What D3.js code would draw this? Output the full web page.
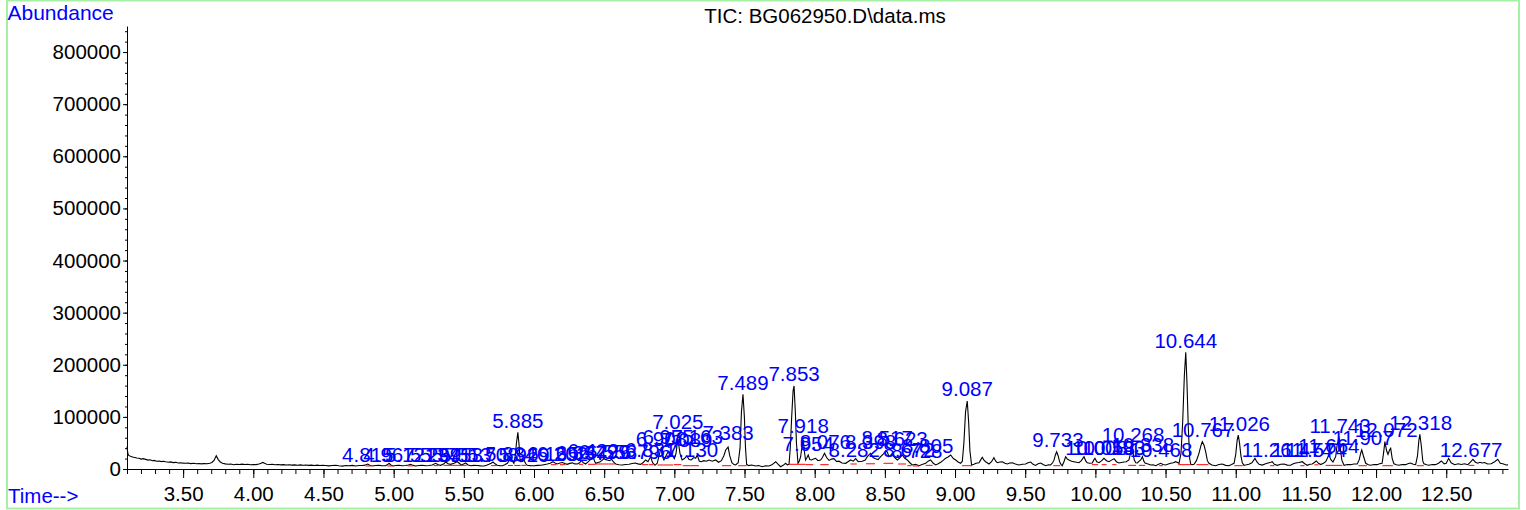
<!DOCTYPE html>
<html>
<head>
<meta charset="utf-8">
<script src="https://d3js.org/d3.v7.min.js"></script>
<style>
    body { margin: 0; background: #fff; }
    text { font-family: "Liberation Sans", Arial, sans-serif; }
</style>
</head>
<body>
<div id="chart"></div>
<script>
// TIC trace: [retention time (min), abundance]
var trace = [
    [3.100, 43000], [3.106, 30000], [3.112, 26000], [3.125, 24500], [3.140, 23000], [3.155, 22000],
    [3.170, 21000], [3.185, 20500], [3.200, 19000], [3.215, 19800], [3.233, 18500], [3.250, 17000],
    [3.265, 17800], [3.280, 15900], [3.295, 16500], [3.310, 15000], [3.328, 15400], [3.345, 14200],
    [3.360, 14800], [3.376, 13800], [3.395, 13000], [3.410, 13600], [3.430, 12300], [3.447, 12800],
    [3.465, 11600], [3.485, 12100], [3.500, 11200], [3.518, 10900], [3.535, 11500], [3.555, 10400],
    [3.575, 11000], [3.595, 10100], [3.613, 10500], [3.630, 9800], [3.650, 10600], [3.670, 10000],
    [3.690, 11200], [3.705, 12500], [3.720, 16500], [3.736, 25500], [3.750, 18000], [3.765, 13500],
    [3.780, 11000], [3.800, 9800], [3.820, 9000], [3.840, 9500], [3.860, 8300], [3.880, 9000],
    [3.900, 8600], [3.920, 9300], [3.940, 8500], [3.960, 9000], [3.980, 8200], [4.000, 8700],
    [4.020, 8400], [4.040, 9600], [4.055, 11000], [4.068, 12600], [4.080, 11000], [4.095, 9200],
    [4.115, 8600], [4.135, 9000], [4.155, 8100], [4.175, 8500], [4.195, 7900], [4.215, 8400],
    [4.235, 7700], [4.255, 8200], [4.275, 7500], [4.295, 8000], [4.315, 7300], [4.335, 7900],
    [4.355, 7200], [4.375, 7600], [4.395, 6900], [4.415, 7500], [4.435, 6800], [4.455, 7400],
    [4.475, 6700], [4.495, 7200], [4.515, 6600], [4.539, 6000], [4.560, 6800], [4.587, 7100],
    [4.610, 6200], [4.634, 5500], [4.660, 6800], [4.682, 6300], [4.705, 6900], [4.729, 5800],
    [4.755, 6600], [4.777, 6800], [4.795, 7400], [4.815, 9600], [4.832, 6600], [4.848, 5800],
    [4.870, 6600], [4.896, 6900], [4.920, 6100], [4.943, 6500], [4.955, 8000], [4.967, 10900],
    [4.980, 7800], [4.995, 5800], [5.015, 6600], [5.038, 7200], [5.060, 6200], [5.086, 6600],
    [5.105, 7800], [5.121, 9000], [5.138, 6900], [5.157, 5800], [5.180, 6800], [5.204, 7100],
    [5.228, 6300], [5.252, 6600], [5.275, 7800], [5.299, 10900], [5.318, 8200], [5.335, 7100],
    [5.355, 9500], [5.371, 13400], [5.388, 10000], [5.406, 9000], [5.430, 11000], [5.453, 14000],
    [5.470, 10500], [5.482, 7500], [5.498, 9500], [5.513, 11500], [5.530, 7800], [5.549, 6200],
    [5.572, 7000], [5.596, 6800], [5.620, 6000], [5.644, 5800], [5.662, 7200], [5.679, 9000],
    [5.695, 11000], [5.708, 13400], [5.722, 10000], [5.738, 7100], [5.756, 6500], [5.774, 6300],
    [5.792, 8000], [5.810, 10900], [5.822, 16000], [5.834, 22400], [5.846, 15000], [5.857, 10900],
    [5.866, 25000], [5.875, 50000], [5.885, 70400], [5.894, 45000], [5.900, 20000], [5.907, 14000],
    [5.918, 15500], [5.929, 17300], [5.940, 10500], [5.952, 7100], [5.975, 6500], [6.000, 6200],
    [6.025, 7000], [6.048, 7100], [6.070, 8200], [6.095, 9600], [6.115, 11000], [6.135, 14000],
    [6.150, 11500], [6.166, 9600], [6.185, 11500], [6.202, 12500], [6.220, 10500], [6.237, 9000],
    [6.255, 10800], [6.273, 11800], [6.290, 9800], [6.309, 9600], [6.325, 12000], [6.337, 15900],
    [6.352, 12000], [6.368, 9600], [6.385, 13500], [6.404, 18600], [6.422, 22400], [6.432, 15000],
    [6.439, 10900], [6.455, 12500], [6.468, 13400], [6.485, 16500], [6.499, 19800], [6.512, 18000],
    [6.522, 17300], [6.538, 16000], [6.553, 18600], [6.568, 13000], [6.582, 9600], [6.605, 8300],
    [6.629, 7700], [6.652, 8600], [6.677, 9000], [6.700, 10500], [6.720, 11500], [6.740, 9800],
    [6.760, 8800], [6.778, 12500], [6.796, 17300], [6.812, 14000], [6.831, 23600], [6.845, 12000],
    [6.862, 7100], [6.878, 11000], [6.895, 30000], [6.908, 42000], [6.918, 22000], [6.926, 17300],
    [6.940, 25000], [6.955, 33000], [6.968, 28000], [6.985, 26900], [7.000, 20000], [7.012, 30000],
    [7.025, 58000], [7.040, 30000], [7.055, 17300], [7.072, 20000], [7.089, 25000], [7.105, 18000],
    [7.120, 17300], [7.139, 22000], [7.152, 20500], [7.163, 26900], [7.178, 15000], [7.192, 14000],
    [7.210, 16000], [7.228, 15000], [7.247, 17300], [7.270, 15000], [7.294, 17300], [7.315, 13000],
    [7.335, 16000], [7.352, 25000], [7.366, 36500], [7.383, 42000], [7.395, 25000], [7.410, 12000],
    [7.425, 8500], [7.437, 7700], [7.455, 12000], [7.468, 40000], [7.478, 110000], [7.489, 143300],
    [7.499, 100000], [7.507, 40000], [7.515, 9000], [7.530, 6500], [7.550, 7700], [7.580, 5800],
    [7.600, 6800], [7.627, 4400], [7.650, 6300], [7.674, 5800], [7.695, 8000], [7.722, 14000],
    [7.740, 9000], [7.757, 4400], [7.775, 7000], [7.793, 10900], [7.805, 8000], [7.817, 9000],
    [7.826, 40000], [7.836, 100000], [7.846, 150000], [7.853, 159300], [7.862, 110000], [7.870, 50000],
    [7.881, 10900], [7.890, 15000], [7.900, 23600], [7.910, 45000], [7.918, 55600], [7.926, 35000],
    [7.935, 17300], [7.945, 22000], [7.954, 26900], [7.965, 18000], [7.978, 17300], [7.992, 19000],
    [8.006, 20500], [8.024, 16000], [8.042, 17300], [8.055, 22000], [8.070, 30100], [8.085, 22000],
    [8.102, 16500], [8.120, 19000], [8.137, 19800], [8.155, 14500], [8.173, 15000], [8.195, 11500],
    [8.221, 10900], [8.240, 14500], [8.256, 17300], [8.275, 15000], [8.292, 19800], [8.310, 14000],
    [8.339, 15000], [8.360, 17300], [8.375, 23600], [8.390, 28000], [8.399, 30100], [8.415, 22000],
    [8.434, 19800], [8.452, 18000], [8.470, 23600], [8.490, 29000], [8.506, 35100], [8.517, 33000],
    [8.529, 23600], [8.540, 26000], [8.553, 30000], [8.570, 22000], [8.589, 17300], [8.605, 21000],
    [8.624, 26900], [8.640, 21000], [8.660, 17300], [8.678, 12000], [8.695, 7700], [8.720, 9000],
    [8.743, 6300], [8.765, 8500], [8.791, 10900], [8.808, 15000], [8.826, 17300], [8.845, 11000],
    [8.862, 7700], [8.880, 10000], [8.898, 13000], [8.915, 16500], [8.933, 20500], [8.950, 23000],
    [8.969, 26900], [8.988, 20000], [9.005, 17300], [9.022, 13500], [9.040, 10900], [9.052, 15000],
    [9.063, 50000], [9.075, 110000], [9.087, 130500], [9.097, 90000], [9.106, 35000], [9.118, 7700],
    [9.135, 9000], [9.150, 10900], [9.171, 12100], [9.184, 18000], [9.194, 22400], [9.206, 17000],
    [9.218, 14000], [9.242, 9600], [9.260, 14000], [9.277, 21700], [9.290, 15000], [9.301, 12100],
    [9.320, 13500], [9.337, 14000], [9.355, 11000], [9.372, 9600], [9.390, 11500], [9.408, 12100],
    [9.430, 9500], [9.455, 7700], [9.480, 9000], [9.503, 9600], [9.520, 12000], [9.539, 13400],
    [9.556, 9000], [9.574, 6900], [9.592, 10000], [9.610, 11500], [9.628, 8500], [9.646, 6300],
    [9.665, 8000], [9.681, 7700], [9.695, 12000], [9.705, 17000], [9.715, 27000], [9.724, 33200],
    [9.735, 25000], [9.745, 14000], [9.755, 9000], [9.764, 6300], [9.776, 14000], [9.788, 23600],
    [9.800, 19000], [9.812, 17300], [9.830, 15000], [9.847, 14000], [9.865, 13000], [9.883, 12100],
    [9.900, 16000], [9.919, 23600], [9.932, 15000], [9.942, 12100], [9.960, 11000], [9.978, 11500],
    [9.988, 17000], [9.997, 20500], [10.010, 14000], [10.026, 12100], [10.045, 16000], [10.061, 20500],
    [10.080, 16000], [10.097, 14000], [10.115, 17000], [10.133, 19800], [10.150, 14000], [10.168, 11500],
    [10.185, 12500], [10.204, 13400], [10.220, 14000], [10.239, 17300], [10.250, 30000], [10.258, 44100],
    [10.268, 32000], [10.277, 17300], [10.288, 12000], [10.299, 11500], [10.312, 15000], [10.323, 17300],
    [10.335, 23600], [10.345, 15000], [10.354, 11500], [10.375, 9500], [10.394, 7700], [10.412, 8000],
    [10.430, 6300], [10.450, 9000], [10.465, 10900], [10.482, 8500], [10.501, 7700], [10.520, 9500],
    [10.536, 10900], [10.555, 12000], [10.572, 14000], [10.585, 12500], [10.596, 10900], [10.610, 30000],
    [10.622, 90000], [10.634, 180000], [10.644, 224000], [10.652, 170000], [10.662, 80000], [10.672, 20000],
    [10.680, 9000], [10.690, 8500], [10.703, 9000], [10.720, 16000], [10.738, 30100], [10.752, 45000],
    [10.762, 52400], [10.775, 45000], [10.786, 33000], [10.798, 16000], [10.809, 10900], [10.830, 7500],
    [10.857, 6300], [10.880, 8500], [10.904, 9600], [10.928, 7000], [10.952, 6300], [10.970, 8500],
    [10.988, 10900], [11.000, 28000], [11.010, 55000], [11.018, 65000], [11.027, 50000], [11.037, 25000],
    [11.047, 12000], [11.059, 7100], [11.077, 8000], [11.094, 9000], [11.115, 12000], [11.137, 20500],
    [11.150, 14000], [11.166, 9000], [11.189, 7500], [11.213, 10000], [11.237, 12000], [11.250, 13000],
    [11.260, 14000], [11.275, 9000], [11.296, 7100], [11.320, 9000], [11.344, 9600], [11.368, 7500],
    [11.391, 7100], [11.410, 10000], [11.427, 11500], [11.450, 12500], [11.474, 14000], [11.492, 10000],
    [11.510, 7100], [11.528, 9000], [11.545, 9600], [11.560, 12500], [11.574, 15400], [11.590, 11000],
    [11.605, 8500], [11.625, 11000], [11.641, 14000], [11.652, 20000], [11.664, 26900], [11.678, 18000],
    [11.693, 13400], [11.705, 20000], [11.712, 23600], [11.722, 45000], [11.735, 62000], [11.745, 40000],
    [11.756, 17000], [11.772, 7100], [11.795, 8500], [11.819, 8300], [11.842, 9500], [11.866, 9600],
    [11.880, 18000], [11.890, 30000], [11.898, 36500], [11.910, 25000], [11.926, 11000], [11.945, 8000],
    [11.961, 7100], [11.985, 8500], [12.008, 8300], [12.025, 10000], [12.043, 11000], [12.053, 30000],
    [12.063, 52400], [12.075, 35000], [12.085, 28000], [12.095, 36000], [12.104, 39700], [12.115, 20000],
    [12.127, 10000], [12.145, 8000], [12.163, 7100], [12.185, 8500], [12.211, 8300], [12.230, 10500],
    [12.246, 11500], [12.265, 9000], [12.282, 8300], [12.295, 25000], [12.305, 55000], [12.312, 66600],
    [12.322, 45000], [12.333, 15000], [12.341, 10000], [12.360, 8000], [12.376, 7100], [12.400, 8500],
    [12.424, 8300], [12.445, 11000], [12.465, 15400], [12.485, 10000], [12.500, 11000], [12.517, 20500],
    [12.535, 12000], [12.560, 8300], [12.585, 10000], [12.607, 8600], [12.630, 10000], [12.654, 8300],
    [12.672, 13000], [12.690, 18500], [12.708, 13000], [12.725, 11000], [12.740, 13000], [12.755, 11500],
    [12.773, 12500], [12.795, 9500], [12.820, 10000], [12.845, 14000], [12.867, 18600], [12.885, 11000],
    [12.903, 10000], [12.927, 7700], [12.940, 8000]
];

// labelled peaks: [retention time, height used for the label]
var peaks = [
    [4.815, 5400], [4.967, 5400], [5.121, 5400], [5.299, 5400], [5.371, 5400], [5.453, 5400],
    [5.513, 5400], [5.708, 5400], [5.834, 6000], [5.885, 70400], [5.929, 5400], [6.135, 7000],
    [6.202, 7500], [6.337, 9000], [6.422, 12500], [6.499, 11000], [6.553, 10000], [6.796, 11000],
    [6.831, 14400], [6.908, 35500], [6.955, 39400], [7.025, 68100], [7.089, 33600], [7.130, 14400],
    [7.163, 39400], [7.383, 47000], [7.489, 143300], [7.853, 159300], [7.918, 60000], [7.954, 26500],
    [8.076, 30000], [8.282, 15000], [8.398, 30000], [8.517, 37000], [8.623, 35000], [8.672, 14400],
    [8.728, 12500], [8.805, 22000], [9.087, 130500], [9.733, 33200], [10.008, 18200], [10.058, 18200],
    [10.133, 18200], [10.268, 43800], [10.338, 24600], [10.468, 14400], [10.644, 224000], [10.767, 52800],
    [11.026, 65000], [11.261, 14400], [11.474, 14400], [11.574, 14400], [11.664, 22000], [11.743, 61000],
    [11.907, 36500], [12.072, 52400], [12.318, 66600], [12.677, 14400]
];

// integration baselines: [start time, end time, abundance]
var baselines = [
    [4.800, 4.835, 5800], [4.955, 4.990, 5800], [5.100, 5.140, 6000], [5.285, 5.320, 6500],
    [5.355, 5.420, 7000], [5.420, 5.520, 7000], [5.695, 5.735, 6500], [5.815, 5.850, 6800],
    [5.860, 5.905, 6800], [5.910, 5.945, 7000], [6.120, 6.160, 8300], [6.185, 6.225, 8300],
    [6.320, 6.350, 9000], [6.385, 6.440, 9000], [6.440, 6.530, 9600], [6.530, 6.575, 9600],
    [6.770, 6.815, 8300], [6.820, 6.850, 8300], [6.880, 6.925, 7700], [6.925, 6.990, 7700],
    [6.995, 7.050, 8300], [7.060, 7.115, 6300], [7.115, 7.175, 6300], [7.340, 7.405, 6300],
    [7.455, 7.515, 6300], [7.815, 7.880, 9000], [7.880, 7.935, 9000], [7.935, 7.990, 8300],
    [8.040, 8.100, 8300], [8.255, 8.300, 9600], [8.365, 8.430, 10000], [8.490, 8.560, 11000],
    [8.595, 8.650, 9600], [8.660, 8.690, 6300], [8.700, 8.745, 5800], [8.790, 8.840, 7000],
    [9.050, 9.120, 6300], [9.700, 9.750, 6300], [9.975, 10.020, 8300], [10.045, 10.080, 8300],
    [10.120, 10.150, 8300], [10.235, 10.290, 7000], [10.310, 10.355, 7000], [10.455, 10.480, 6300],
    [10.590, 10.680, 8300], [10.720, 10.805, 8300], [10.990, 11.050, 6300], [11.245, 11.275, 6300],
    [11.460, 11.490, 6300], [11.560, 11.590, 8000], [11.640, 11.700, 7000], [11.700, 11.760, 7000],
    [11.875, 11.935, 6300], [12.045, 12.120, 6300], [12.290, 12.340, 6300], [12.660, 12.700, 7000]
];

var xMajorTicks = [3.5, 4.0, 4.5, 5.0, 5.5, 6.0, 6.5, 7.0, 7.5, 8.0, 8.5, 9.0, 9.5, 10.0, 10.5, 11.0, 11.5, 12.0, 12.5];
var yMajorTicks = [0, 100000, 200000, 300000, 400000, 500000, 600000, 700000, 800000];
var title = "TIC: BG062950.D\\data.ms";

var width = 1526, height = 510;
var fontSize = "20.5px";

var svg = d3.select("#chart").append("svg").attr("width", width).attr("height", height);

// pale green frame round the whole report
svg.append("rect")
    .attr("x", 7)
    .attr("y", 0.5)
    .attr("width", 1512)
    .attr("height", 508)
    .style("fill", "none")
    .style("stroke", "#a6f0a6")
    .style("stroke-width", 2);

var x = d3.scaleLinear().domain([3.1, 12.94]).range([127, 1508]);
var y = d3.scaleLinear().domain([0, 850000]).range([469, 26]);

function styleAxis(g) {
    g.attr("font-size", fontSize).attr("font-family", null);
    g.selectAll("text").style("fill", "#000");
    g.selectAll("line, path").style("stroke", "#000");
}

// y axis, minor then major
svg.append("g")
    .attr("transform", "translate(127,0)")
    .call(d3.axisLeft(y).tickValues(d3.range(0, 850000, 20000)).tickSize(2).tickSizeOuter(0).tickFormat(""))
    .call(styleAxis);
svg.append("g")
    .attr("transform", "translate(127,0)")
    .call(d3.axisLeft(y).tickValues(yMajorTicks).tickSize(4).tickSizeOuter(0).tickPadding(2).tickFormat(d3.format("d")))
    .call(styleAxis)
    .call(function (g) { g.select(".domain").remove(); });

// x axis, minor then major
svg.append("g")
    .attr("transform", "translate(0,469)")
    .call(d3.axisBottom(x).tickValues(d3.range(3.1, 12.95, 0.1)).tickSize(5).tickSizeOuter(0).tickFormat(""))
    .call(styleAxis);
svg.append("g")
    .attr("transform", "translate(0,469)")
    .call(d3.axisBottom(x).tickValues(xMajorTicks).tickSize(9).tickSizeOuter(0).tickPadding(8).tickFormat(d3.format(".2f")))
    .call(styleAxis)
    .call(function (g) { g.select(".domain").remove(); });

// chromatogram
var line = d3.line()
    .x(function (d) { return x(d[0]); })
    .y(function (d) { return y(d[1]); });

svg.append("path")
    .datum(trace)
    .attr("d", line)
    .style("fill", "none")
    .style("stroke", "#000")
    .style("stroke-width", 1.1);

// integration baselines
svg.selectAll("line.base").data(baselines).enter().append("line")
    .attr("class", "base")
    .attr("x1", function (d) { return x(d[0]); })
    .attr("x2", function (d) { return x(d[1]); })
    .attr("y1", function (d) { return y(d[2]); })
    .attr("y2", function (d) { return y(d[2]); })
    .style("stroke", "#ff0000")
    .style("stroke-width", 1);

// peak labels
svg.selectAll("text.peak").data(peaks).enter().append("text")
    .attr("class", "peak")
    .attr("x", function (d) { return x(d[0]); })
    .attr("y", function (d) { return y(d[1]) - 4.5; })
    .attr("text-anchor", "middle")
    .style("font-size", fontSize)
    .style("fill", "#0000ff")
    .text(function (d) { return d3.format(".3f")(d[0]); });

svg.append("text")
    .attr("x", 825)
    .attr("y", 23)
    .attr("text-anchor", "middle")
    .style("font-size", fontSize)
    .style("fill", "#000")
    .text(title);

svg.append("text")
    .attr("x", 7.5)
    .attr("y", 20)
    .style("font-size", "21px")
    .style("fill", "#0000ff")
    .text("Abundance");

svg.append("text")
    .attr("x", 8)
    .attr("y", 503)
    .style("font-size", fontSize)
    .style("fill", "#0000ff")
    .text("Time-->");
</script>
</body>
</html>
